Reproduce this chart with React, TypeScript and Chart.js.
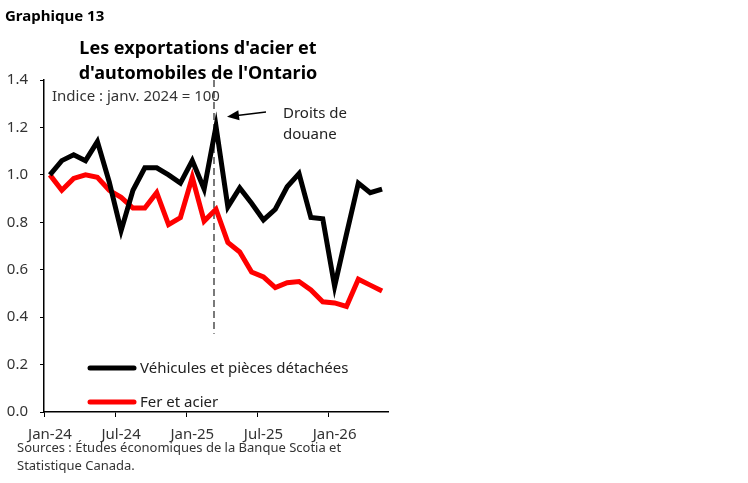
import { useEffect, useRef } from 'react';
import { Chart, registerables } from 'chart.js';

Chart.register(...registerables);

const months = [
    'Jan-24', 'Feb-24', 'Mar-24', 'Apr-24', 'May-24', 'Jun-24', 'Jul-24', 'Aug-24', 'Sep-24', 'Oct-24', 'Nov-24', 'Dec-24',
    'Jan-25', 'Feb-25', 'Mar-25', 'Apr-25', 'May-25', 'Jun-25', 'Jul-25', 'Aug-25', 'Sep-25', 'Oct-25', 'Nov-25', 'Dec-25',
    'Jan-26', 'Feb-26', 'Mar-26', 'Apr-26', 'May-26',
];

// index, janv. 2024 = 1.0
const vehicles = [
    1.0, 1.06, 1.085, 1.06, 1.14, 0.97, 0.765, 0.935, 1.03, 1.03, 1.0, 0.965,
    1.06, 0.94, 1.205, 0.865, 0.945, 0.88, 0.81, 0.855, 0.95, 1.005, 0.82, 0.815,
    0.53, 0.75, 0.965, 0.925, 0.94,
];
const steel = [
    1.0, 0.935, 0.985, 1.0, 0.99, 0.935, 0.905, 0.86, 0.86, 0.925, 0.79, 0.82,
    0.99, 0.805, 0.855, 0.715, 0.675, 0.59, 0.57, 0.525, 0.545, 0.55, 0.515, 0.465,
    0.46, 0.445, 0.56, 0.535, 0.51,
];

const seriesLabels = ['Véhicules et pièces détachées', 'Fer et acier'];
const seriesColors = ['#000000', '#ff0000'];
const yTicks = [0, 0.2, 0.4, 0.6, 0.8, 1.0, 1.2, 1.4];

const chartLabel = 'Graphique 13';
const titleLines = ["Les exportations d'acier et", "d'automobiles de l'Ontario"];
const indexNote = 'Indice : janv. 2024 = 100';
const tariffMonth = 'Mar-25';
const tariffNote = ['Droits de', 'douane'];
const sourceLines = ['Sources : Études économiques de la Banque Scotia et', 'Statistique Canada.'];

const FONT = '"Noto Sans", sans-serif';

const overlay = {
    id: 'overlay',
    beforeDatasetsDraw(chart: any) {
        const { ctx, scales } = chart;
        const x = scales.x;
        const y = scales.y;
        const xd = x.getPixelForValue(months.indexOf(tariffMonth)) - 2;
        ctx.save();
        ctx.setLineDash([7, 4]);
        ctx.strokeStyle = '#333';
        ctx.lineWidth = 1.3;
        ctx.beginPath();
        ctx.moveTo(xd, y.getPixelForValue(1.4));
        ctx.lineTo(xd, y.getPixelForValue(0.33));
        ctx.stroke();
        ctx.restore();
    },
    afterDraw(chart: any) {
        const { ctx, scales, chartArea } = chart;
        const x = scales.x;
        const y = scales.y;
        const xd = x.getPixelForValue(months.indexOf(tariffMonth)) - 2;
        ctx.save();

        // arrow to the tariff line
        const tipX = xd + 13;
        const tipY = y.getPixelForValue(1.245);
        const tailX = xd + 52;
        const tailY = y.getPixelForValue(1.265);
        ctx.strokeStyle = '#000';
        ctx.fillStyle = '#000';
        ctx.lineWidth = 1.5;
        ctx.beginPath();
        ctx.moveTo(tailX, tailY);
        ctx.lineTo(tipX + 8, tipY - 1);
        ctx.stroke();
        const ang = Math.atan2(tipY - tailY, tipX - tailX);
        ctx.beginPath();
        ctx.moveTo(tipX, tipY);
        ctx.lineTo(tipX - 12 * Math.cos(ang) + 5 * Math.sin(ang), tipY - 12 * Math.sin(ang) - 5 * Math.cos(ang));
        ctx.lineTo(tipX - 12 * Math.cos(ang) - 5 * Math.sin(ang), tipY - 12 * Math.sin(ang) + 5 * Math.cos(ang));
        ctx.closePath();
        ctx.fill();

        ctx.fillStyle = '#222';
        ctx.font = `15px ${FONT}`;
        ctx.textAlign = 'left';
        ctx.textBaseline = 'alphabetic';
        ctx.fillText(tariffNote[0], xd + 69, 118);
        ctx.fillText(tariffNote[1], xd + 69, 139);

        // index note
        ctx.fillStyle = '#333';
        ctx.fillText(indexNote, chartArea.left + 8, 101);

        // header
        ctx.fillStyle = '#000';
        ctx.font = `bold 15px ${FONT}`;
        ctx.fillText(chartLabel, 5, 21);
        ctx.font = `bold 18px ${FONT}`;
        ctx.textAlign = 'center';
        ctx.fillText(titleLines[0], 198, 54);
        ctx.fillText(titleLines[1], 198, 79);

        // legend inside plot
        ctx.textAlign = 'left';
        ctx.textBaseline = 'middle';
        ctx.font = `15px ${FONT}`;
        const legendY = [368, 402];
        seriesLabels.forEach((label, i) => {
            ctx.strokeStyle = seriesColors[i];
            ctx.lineWidth = 5;
            ctx.lineCap = 'round';
            ctx.beginPath();
            ctx.moveTo(90, legendY[i]);
            ctx.lineTo(134, legendY[i]);
            ctx.stroke();
            ctx.fillStyle = '#222';
            ctx.fillText(label, 140, legendY[i] + 1);
        });

        // sources
        ctx.textBaseline = 'alphabetic';
        ctx.fillStyle = '#333';
        ctx.font = `13px ${FONT}`;
        ctx.fillText(sourceLines[0], 17, 452);
        ctx.fillText(sourceLines[1], 17, 470);

        ctx.restore();
    },
};

export default function App() {
    const chartRef = useRef<HTMLCanvasElement>(null);
    const chartInstance = useRef<Chart | null>(null);

    useEffect(() => {
        if (!chartRef.current) return;
        const ctx = chartRef.current.getContext('2d');
        if (!ctx) return;

        chartInstance.current = new Chart(ctx, {
            type: 'line',
            data: {
                labels: months,
                datasets: [
                    {
                        label: seriesLabels[0],
                        data: vehicles,
                        borderColor: seriesColors[0],
                        borderWidth: 5,
                        pointRadius: 0,
                        tension: 0,
                        fill: false,
                    },
                    {
                        label: seriesLabels[1],
                        data: steel,
                        borderColor: seriesColors[1],
                        borderWidth: 5,
                        pointRadius: 0,
                        tension: 0,
                        fill: false,
                    },
                ],
            },
            options: {
                responsive: false,
                animation: false,
                layout: {
                    padding: { top: 80, right: 360, left: 0, bottom: 0 },
                },
                plugins: {
                    legend: { display: false },
                    title: { display: false },
                    tooltip: { enabled: false },
                },
                scales: {
                    x: {
                        type: 'category',
                        offset: true,
                        afterFit: (scale: any) => {
                            scale.height = 71;
                        },
                        grid: {
                            offset: true,
                            drawOnChartArea: false,
                            tickLength: 5,
                            lineWidth: 1,
                            color: (c: any) => (c.index % 6 === 0 && c.index < months.length ? '#000' : 'rgba(0,0,0,0)'),
                        },
                        border: { color: '#000', width: 1.5 },
                        ticks: {
                            autoSkip: false,
                            maxRotation: 0,
                            padding: 9,
                            color: '#333',
                            font: { family: FONT, size: 15 },
                            callback: (_v: any, i: number) => (i % 6 === 0 ? months[i] : ''),
                        },
                    },
                    y: {
                        min: 0,
                        max: 1.4,
                        afterFit: (scale: any) => {
                            scale.width = 44;
                        },
                        afterBuildTicks: (scale: any) => {
                            scale.ticks = yTicks.map(v => ({ value: v }));
                        },
                        grid: {
                            drawOnChartArea: false,
                            tickLength: 4,
                            color: '#000',
                        },
                        border: { color: '#000', width: 1.5 },
                        ticks: {
                            padding: 12,
                            color: '#333',
                            font: { family: FONT, size: 15 },
                            callback: (v: any) => Number(v).toFixed(1),
                        },
                    },
                },
            },
            plugins: [overlay],
        });

        return () => {
            if (chartInstance.current) {
                chartInstance.current.destroy();
                chartInstance.current = null;
            }
        };
    }, []);

    return (
        <div style={{ position: 'absolute', left: 0, top: 0, width: 748, height: 483, background: '#fff' }}>
            <canvas ref={chartRef} width={748} height={483} />
        </div>
    );
}
